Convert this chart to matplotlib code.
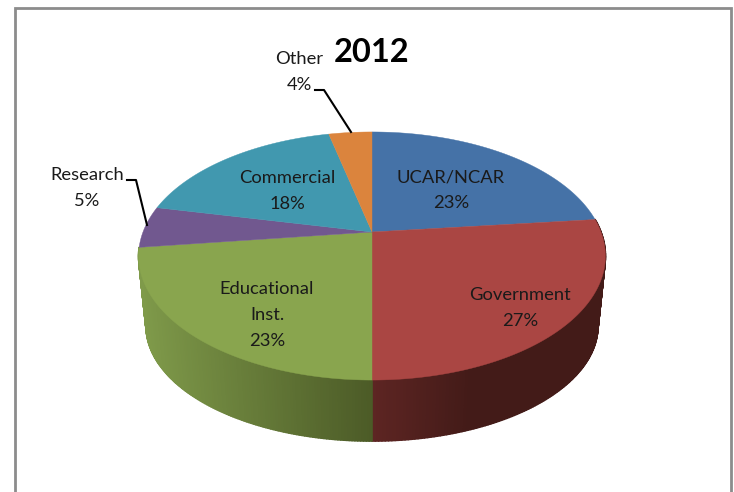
import numpy as np
import matplotlib
matplotlib.use('Agg')
import matplotlib.pyplot as plt
from matplotlib.collections import PolyCollection
from matplotlib.colors import to_rgb

plt.rcParams['font.family'] = ['Lato', 'DejaVu Sans']

# data, clockwise from 12 o'clock
categories = ['UCAR/NCAR', 'Government', 'Educational\nInst.', 'Research', 'Commercial', 'Other']
shares = [23.3, 26.7, 23.0, 5.4, 18.0, 3.6]
colors = ['#4572a7', '#aa4643', '#89a54e', '#71588f', '#4198af', '#db843d']
side_light = {1: '#5e2523', 2: '#7f9a4a'}
side_dark = {1: '#431b18', 2: '#4c5b27'}
title = '2012'

# label centres in pixels
label_x = [451, 520, 267, 87, 287, 299]
label_y = [190, 308, 315, 188, 191, 72]

# perspective of the disc
hub_x, hub_y = 372, 232
a, b, k = 229.0, 119.4, 0.1935
top_cy, top_ry, top_rx = 256, 124, 233.5
low_cy, low_ry, low_rx = 326, 115, 226


def top_xy(t):
    u, v = np.cos(t), np.sin(t)
    w = 1 + k * v
    return hub_x + a * u / w, hub_y - b * v / w


def low_xy(t):
    x, y = top_xy(t)
    return hub_x + (x - hub_x) * low_rx / top_rx, low_cy + (y - top_cy) * low_ry / top_ry


def mix(c1, c2, f):
    c1, c2 = np.array(to_rgb(c1)), np.array(to_rgb(c2))
    return tuple(c1 + (c2 - c1) * f)


fig = plt.figure(figsize=(7.34, 4.92), dpi=100)
ax = fig.add_axes([0, 0, 1, 1])
ax.set_xlim(0, 734)
ax.set_ylim(492, 0)
ax.axis('off')

# chart frame, bottom edge is cut off in the original
ax.plot([15, 15, 731, 731], [492, 8, 8, 492], color='#8c8c8c', lw=2, solid_joinstyle='miter')

edges = np.radians(90 - np.cumsum([0] + shares) * 3.6)

# side of the disc, only the two front slices show it
polys, cols = [], []
for i in [1, 2]:
    start, end = edges[i], edges[i + 1]
    ts = np.linspace(start, end, 140)
    ts = ts[(np.sin(ts) < 0.35)]
    for t0, t1 in zip(ts[:-1], ts[1:]):
        x0, y0 = top_xy(t0)
        x1, y1 = top_xy(t1)
        x2, y2 = low_xy(t1)
        x3, y3 = low_xy(t0)
        polys.append([(x0, y0), (x1, y1), (x2, y2), (x3, y3)])
        if i == 1:
            cols.append(mix(side_light[i], side_dark[i], min(1, (x0 - hub_x) / 100)))
        else:
            cols.append(mix(side_dark[i], side_light[i], min(1, (hub_x - x0) / 233)))
ax.add_collection(PolyCollection(polys, facecolors=cols, edgecolors=cols, linewidths=1.2))

# top of the disc
for i in range(len(shares)):
    ts = np.linspace(edges[i], edges[i + 1], 120)
    xs, ys = top_xy(ts)
    ax.fill(np.r_[hub_x, xs], np.r_[hub_y, ys], color=colors[i], lw=0.3)

# leader lines
ax.plot([315, 324, 351], [90, 90, 132], color='black', lw=1.5)
ax.plot([127, 136, 147], [180, 180, 225], color='black', lw=1.5)

for name, val, x, y in zip(categories, shares, label_x, label_y):
    ax.text(x, y, '%s\n%d%%' % (name, round(val)), ha='center', va='center',
            fontsize=13.2, color='#1a1a1a', linespacing=1.75)

ax.text(372, 53, title, ha='center', va='center', fontsize=23.5, fontweight='bold', color='black')

fig.savefig('out.png', dpi=100)
